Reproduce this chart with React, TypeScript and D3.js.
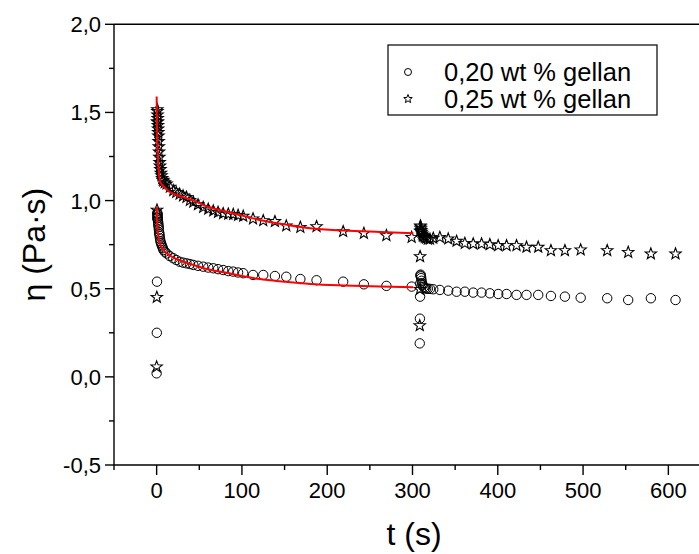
import React from "react";
import * as d3 from "d3";

// Phase A (0–300 s) shared time points
const timeA = [0, 0.2, 0.4, 0.6, 0.75, 0.9, 1.05, 1.2, 1.35, 1.5, 1.7, 1.9, 2.1, 2.35, 2.6, 2.9, 3.2, 3.5, 3.9, 4.4, 5, 5.7, 6.5, 7.3, 8, 9.5, 11.7,
  15.5, 19.5, 23, 27, 31, 35, 39, 43, 48.5, 54.6, 60.5, 66.4, 72, 78, 84, 89.8, 95.5, 101.5, 113, 125, 138.7, 152, 168.5, 187.5, 218.7, 243, 269.4, 299];
const gellan20A = [0.02, 0.25, 0.54, 0.90, 0.93, 0.925, 0.92, 0.91, 0.90, 0.89, 0.88, 0.87, 0.86, 0.85, 0.835, 0.82, 0.81, 0.80, 0.785, 0.77, 0.76, 0.75, 0.74, 0.73, 0.72, 0.71, 0.70,
  0.685, 0.673, 0.663, 0.653, 0.648, 0.644, 0.64, 0.635, 0.63, 0.625, 0.62, 0.616, 0.611, 0.606, 0.60, 0.597, 0.592, 0.588, 0.578, 0.578, 0.572, 0.568, 0.555, 0.548, 0.540, 0.525, 0.516, 0.512];
const gellan25A = [0.06, 0.455, 0.95, 1.45, 1.52, 1.51, 1.49, 1.47, 1.45, 1.43, 1.41, 1.39, 1.37, 1.34, 1.31, 1.28, 1.25, 1.22, 1.20, 1.18, 1.16, 1.145, 1.13, 1.12, 1.115, 1.105, 1.098,
  1.08, 1.06, 1.05, 1.04, 1.03, 1.022, 1.005, 0.995, 0.98, 0.965, 0.955, 0.945, 0.937, 0.93, 0.927, 0.925, 0.92, 0.915, 0.90, 0.89, 0.885, 0.86, 0.852, 0.856, 0.828, 0.818, 0.805, 0.795];

// Phase B (after ~308 s)
const timeB = [308.5, 308.7, 308.9, 309.1, 309.3, 309.5, 309.8, 310.2, 310.7, 311.3, 312, 313, 314.5, 316, 318, 320.5, 324.3,
  332.1, 341.9, 351.7, 361.4, 371.2, 381.0, 390.7, 400.5, 410.3, 422.0, 433.7, 447.4, 462.3, 478.7, 497.2, 528.3, 552.9, 579.5, 608.4];
const gellan20B = [0.19, 0.33, 0.455, 0.53, 0.575, 0.58, 0.57, 0.56, 0.545, 0.53, 0.52, 0.51, 0.505, 0.50, 0.50, 0.499, 0.497,
  0.493, 0.489, 0.483, 0.483, 0.478, 0.478, 0.474, 0.470, 0.470, 0.465, 0.465, 0.465, 0.459, 0.455, 0.449, 0.446, 0.436, 0.446, 0.436];
const gellan25B = [0.294, 0.50, 0.686, 0.83, 0.86, 0.855, 0.845, 0.835, 0.825, 0.815, 0.805, 0.80, 0.795, 0.79, 0.785, 0.785, 0.79,
  0.795, 0.786, 0.773, 0.761, 0.758, 0.758, 0.754, 0.748, 0.748, 0.748, 0.739, 0.739, 0.720, 0.720, 0.724, 0.720, 0.710, 0.701, 0.701];

// Fitted curves (red)
const fitTime = [0, 0.5, 1, 2, 3, 4, 8, 15, 25, 43, 60, 82, 100, 121, 150, 180, 220, 262, 301];
const fit25 = [1.59, 1.40, 1.30, 1.20, 1.14, 1.107, 1.08, 1.05, 1.03, 1.0, 0.965, 0.937, 0.915, 0.89, 0.865, 0.843, 0.83, 0.822, 0.815];
const fit20 = [0.965, 0.88, 0.84, 0.80, 0.775, 0.755, 0.72, 0.69, 0.665, 0.635, 0.61, 0.59, 0.572, 0.555, 0.54, 0.527, 0.518, 0.512, 0.508];

const xMajor = [0, 100, 200, 300, 400, 500, 600];
const xMinor = [-50, 50, 150, 250, 350, 450, 550];
const yMajor = [-0.5, 0, 0.5, 1.0, 1.5, 2.0];
const yMinor = [-0.25, 0.25, 0.75, 1.25, 1.75];
const legendLabels = ["0,20 wt % gellan", "0,25 wt % gellan"];

const FONT = "'Liberation Sans', Arial, Helvetica, sans-serif";

function starPath(cx: number, cy: number, R: number) {
  const r = R * 0.42;
  const pts: string[] = [];
  for (let i = 0; i < 10; i++) {
    const a = -Math.PI / 2 + (i * Math.PI) / 5;
    const rr = i % 2 === 0 ? R : r;
    pts.push(`${(cx + rr * Math.cos(a)).toFixed(2)},${(cy + rr * Math.sin(a)).toFixed(2)}`);
  }
  return "M" + pts.join("L") + "Z";
}

export default function App() {
  const W = 699, H = 554;
  const left = 114, right = 711, top = 24.3, bottom = 465;
  const x = d3.scaleLinear().domain([-50, 650]).range([left, right]);
  const y = d3.scaleLinear().domain([-0.5, 2.0]).range([bottom, top]);
  const fmt = (v: number) => d3.format(".1f")(v).replace(".", ",").replace("−", "-");

  const line = d3.line<number>().x((_, i) => x(fitTime[i])).y((d) => y(d)).curve(d3.curveMonotoneX);

  const circles20 = [
    ...timeA.map((t, i) => [t, gellan20A[i]]),
    ...timeB.map((t, i) => [t, gellan20B[i]]),
  ];
  const stars25 = [
    ...timeA.map((t, i) => [t, gellan25A[i]]),
    ...timeB.map((t, i) => [t, gellan25B[i]]),
  ];

  return (
    <svg width={W} height={H} style={{ position: "absolute", left: 0, top: 0, background: "#fff" }} fontFamily={FONT}>
      <rect x={0} y={0} width={W} height={H} fill="#fff" />
      {/* frame */}
      <line x1={left} x2={right} y1={top} y2={top} stroke="#000" strokeWidth={1.4} />
      <line x1={left} x2={right} y1={bottom} y2={bottom} stroke="#000" strokeWidth={1.4} />
      <line x1={left} x2={left} y1={top} y2={bottom} stroke="#000" strokeWidth={1.4} />
      {/* x ticks */}
      {xMajor.map((t) => (
        <g key={"xM" + t}>
          <line x1={x(t)} x2={x(t)} y1={bottom} y2={bottom + 10} stroke="#000" strokeWidth={1.4} />
          <text x={x(t)} y={498} textAnchor="middle" fontSize={22}>{t}</text>
        </g>
      ))}
      {xMinor.map((t) => (
        <line key={"xm" + t} x1={x(t)} x2={x(t)} y1={bottom} y2={bottom + 5} stroke="#000" strokeWidth={1.4} />
      ))}
      {/* y ticks */}
      {yMajor.map((v) => (
        <g key={"yM" + v}>
          <line x1={left - 9} x2={left} y1={y(v)} y2={y(v)} stroke="#000" strokeWidth={1.4} />
          <text x={101} y={y(v) + 8} textAnchor="end" fontSize={22}>{fmt(v)}</text>
        </g>
      ))}
      {yMinor.map((v) => (
        <line key={"ym" + v} x1={left - 5} x2={left} y1={y(v)} y2={y(v)} stroke="#000" strokeWidth={1.4} />
      ))}
      {/* axis titles */}
      <text x={414} y={545} textAnchor="middle" fontSize={32}>t (s)</text>
      <text transform={`translate(45, ${(top + bottom) / 2}) rotate(-90)`} textAnchor="middle" fontSize={32}>η (Pa·s)</text>

      {/* data markers */}
      {circles20.map(([t, v], i) => (
        <circle key={"c" + i} cx={x(t)} cy={y(v)} r={4.7} fill="none" stroke="#000" strokeWidth={1} />
      ))}
      {stars25.map(([t, v], i) => (
        <path key={"s" + i} d={starPath(x(t), y(v) + 0.6, 6)} fill="none" stroke="#000" strokeWidth={1.1} />
      ))}

      {/* fits */}
      <path d={line(fit25) || ""} fill="none" stroke="#ff0000" strokeWidth={2} />
      <path d={line(fit20) || ""} fill="none" stroke="#ff0000" strokeWidth={2} />

      {/* legend */}
      <rect x={388} y={45} width={269} height={70} fill="#fff" stroke="#000" strokeWidth={1.2} />
      <circle cx={408} cy={72} r={3.5} fill="none" stroke="#000" strokeWidth={1} />
      <path d={starPath(408, 99, 4.5)} fill="none" stroke="#000" strokeWidth={1} />
      <text x={444} y={81} fontSize={25.5}>{legendLabels[0]}</text>
      <text x={444} y={108} fontSize={25.5}>{legendLabels[1]}</text>
    </svg>
  );
}
